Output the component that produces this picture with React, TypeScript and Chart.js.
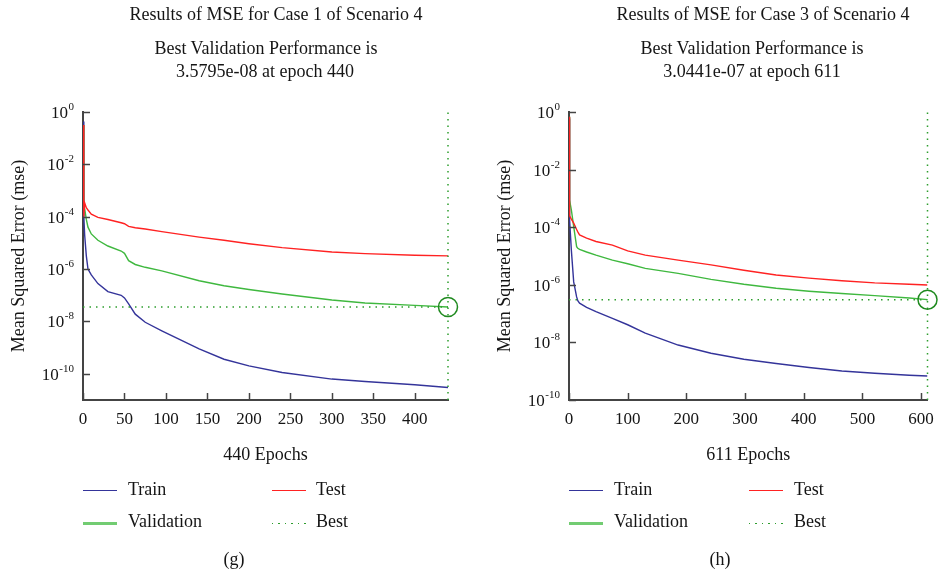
import React, { useEffect, useRef } from 'react';
import { Chart, registerables } from 'chart.js';

Chart.register(...registerables);

const FONT = '"Liberation Serif", "DejaVu Serif", serif';
const TEXT = '#151515';
const AXIS = '#444444';
const TRAIN = '#34349a';
const TEST = '#ff2222';
const VALID = '#3fb83f';
const BEST = '#2e9e2e';
const CIRCLE = '#1f8a1f';

// ---------- Case 1 of Scenario 4 (g) ----------
const case1Epochs = [0, 1, 2, 4, 6, 10, 18, 30, 46, 50, 55, 63, 75, 95, 140, 170, 200, 240, 300, 340, 400, 440];
const case1Train = [4.3e-1, 1.0e-4, 2.0e-5, 3.2e-6, 1.0e-6, 6.0e-7, 2.8e-7, 1.38e-7, 1.0e-7, 7.9e-8, 4.7e-8, 1.9e-8, 9.3e-9, 4.4e-9, 8.9e-10, 3.6e-10, 2.0e-10, 1.12e-10, 6.3e-11, 5.1e-11, 3.8e-11, 3.0e-11];
const case1Validation = [3.2e-1, 2.5e-4, 2.0e-4, 7.9e-5, 4.0e-5, 2.2e-5, 1.26e-5, 7.6e-6, 4.9e-6, 4.0e-6, 2.1e-6, 1.5e-6, 1.17e-6, 8.5e-7, 3.6e-7, 2.3e-7, 1.66e-7, 1.12e-7, 6.6e-8, 5.1e-8, 4.1e-8, 3.5795e-8];
const case1Test = [3.2e-1, 1.0e-4, 3.4e-4, 2.2e-4, 1.8e-4, 1.26e-4, 9.5e-5, 7.8e-5, 5.9e-5, 5.4e-5, 4.3e-5, 3.8e-5, 3.4e-5, 2.7e-5, 1.66e-5, 1.26e-5, 9.3e-6, 6.6e-6, 4.5e-6, 3.9e-6, 3.4e-6, 3.2e-6];
const case1BestEpoch = 440;
const case1BestMse = 3.5795e-8;
const case1XTicks = [0, 50, 100, 150, 200, 250, 300, 350, 400];
const case1YTicks = [1e-10, 1e-8, 1e-6, 1e-4, 1e-2, 1];
const case1YMin = 1e-11;
const case1Title = 'Results of MSE for Case 1 of Scenario 4';
const case1Sub = ['Best Validation Performance is', '3.5795e-08 at epoch 440'];
const case1XLabel = '440 Epochs';

// ---------- Case 3 of Scenario 4 (h) ----------
const case3Epochs = [0, 1, 4, 8, 13, 15, 18, 30, 46, 74, 100, 130, 186, 242, 298, 353, 409, 465, 521, 580, 611];
const case3Train = [6.0e-1, 1.8e-4, 1.6e-5, 1.26e-6, 3.8e-7, 2.8e-7, 2.3e-7, 1.66e-7, 1.17e-7, 6.8e-8, 4.1e-8, 2.1e-8, 8.1e-9, 4.2e-9, 2.6e-9, 1.86e-9, 1.35e-9, 1.02e-9, 8.5e-10, 7.2e-10, 6.8e-10];
const case3Validation = [6.9e-1, 8.7e-4, 4.0e-4, 1.05e-4, 2.1e-5, 1.86e-5, 1.7e-5, 1.38e-5, 1.07e-5, 7.2e-6, 5.4e-6, 3.7e-6, 2.5e-6, 1.55e-6, 1.05e-6, 7.6e-7, 6.0e-7, 5.0e-7, 4.2e-7, 3.5e-7, 3.0441e-7];
const case3Test = [6.9e-1, 2.5e-4, 1.9e-4, 1.38e-4, 8.3e-5, 6.9e-5, 5.4e-5, 4.2e-5, 3.2e-5, 2.4e-5, 1.5e-5, 1.07e-5, 7.2e-6, 4.9e-6, 3.2e-6, 2.2e-6, 1.7e-6, 1.38e-6, 1.17e-6, 1.05e-6, 9.8e-7];
const case3BestEpoch = 611;
const case3BestMse = 3.0441e-7;
const case3XTicks = [0, 100, 200, 300, 400, 500, 600];
const case3YTicks = [1e-10, 1e-8, 1e-6, 1e-4, 1e-2, 1];
const case3YMin = 1e-10;
const case3Title = 'Results of MSE for Case 3 of Scenario 4';
const case3Sub = ['Best Validation Performance is', '3.0441e-07 at epoch 611'];
const case3XLabel = '611 Epochs';

const legendLabels = ['Train', 'Test', 'Validation', 'Best'];

type PanelProps = {
  epochs: number[];
  train: number[];
  validation: number[];
  test: number[];
  bestEpoch: number;
  bestMse: number;
  xTicks: number[];
  yTicks: number[];
  yMin: number;
  xLabel: string;
  width: number;
  yWidth: number;
  rightPad: number;
  yTitlePad: number;
};

const matlabAxes = {
  id: 'matlabAxes',
  afterDraw(chart: any) {
    const { ctx, chartArea, scales } = chart;
    const xs = scales.x;
    const ys = scales.y;
    ctx.save();
    ctx.strokeStyle = AXIS;
    ctx.lineWidth = 1.5;
    xs.ticks.forEach((t: any) => {
      const px = Math.round(xs.getPixelForValue(t.value)) + 0.5;
      ctx.beginPath();
      ctx.moveTo(px, chartArea.bottom);
      ctx.lineTo(px, chartArea.bottom - 7);
      ctx.stroke();
    });
    ys.ticks.forEach((t: any) => {
      const py = Math.round(ys.getPixelForValue(t.value)) + 0.5;
      ctx.beginPath();
      ctx.moveTo(chartArea.left, py);
      ctx.lineTo(chartArea.left + 7, py);
      ctx.stroke();
    });
    ctx.fillStyle = TEXT;
    ctx.textAlign = 'left';
    ctx.textBaseline = 'alphabetic';
    ys.ticks.forEach((t: any) => {
      const py = ys.getPixelForValue(t.value);
      const e = Math.round(Math.log10(t.value));
      const expText = String(e);
      const right = chartArea.left - 9;
      ctx.font = `11px ${FONT}`;
      const ew = ctx.measureText(expText).width;
      ctx.fillText(expText, right - ew, py - 2);
      ctx.font = `17px ${FONT}`;
      const bw = ctx.measureText('10').width;
      ctx.fillText('10', right - ew - bw - 0.5, py + 6);
    });
    ctx.restore();
  },
};

function Panel(p: PanelProps) {
  const ref = useRef<HTMLCanvasElement | null>(null);
  useEffect(() => {
    if (!ref.current) return;
    const pts = (ys: number[]) => p.epochs.map((e, i) => ({ x: e, y: ys[i] }));
    const yMax = p.yTicks[p.yTicks.length - 1];
    const chart = new Chart(ref.current, {
      type: 'line',
      data: {
        datasets: [
          {
            label: 'BestPoint',
            data: [{ x: p.bestEpoch, y: p.bestMse }],
            showLine: false,
            pointRadius: 9.5,
            pointBorderWidth: 1.5,
            pointBorderColor: CIRCLE,
            pointBackgroundColor: 'rgba(0,0,0,0)',
            clip: false,
          } as any,
          {
            label: 'Best',
            data: [{ x: 0, y: p.bestMse }, { x: p.bestEpoch, y: p.bestMse }],
            borderColor: BEST,
            borderWidth: 1.5,
            borderDash: [1.5, 5],
            pointRadius: 0,
            clip: false,
          } as any,
          {
            label: 'BestV',
            data: [{ x: p.bestEpoch, y: p.yMin }, { x: p.bestEpoch, y: yMax }],
            borderColor: BEST,
            borderWidth: 1.5,
            borderDash: [1.5, 5],
            pointRadius: 0,
            clip: false,
          } as any,
          { label: 'Test', data: pts(p.test), borderColor: TEST, borderWidth: 1.4, pointRadius: 0, tension: 0 },
          { label: 'Validation', data: pts(p.validation), borderColor: VALID, borderWidth: 1.4, pointRadius: 0, tension: 0 },
          { label: 'Train', data: pts(p.train), borderColor: TRAIN, borderWidth: 1.4, pointRadius: 0, tension: 0 },
        ],
      },
      options: {
        animation: false,
        responsive: false,
        maintainAspectRatio: false,
        devicePixelRatio: 1,
        layout: { padding: { top: 112, right: p.rightPad, bottom: 106, left: 0 } },
        plugins: { legend: { display: false }, tooltip: { enabled: false }, title: { display: false } },
        scales: {
          x: {
            type: 'linear',
            position: 'bottom',
            min: 0,
            max: p.bestEpoch,
            grid: { display: false, drawTicks: false },
            border: { display: true, color: AXIS, width: 2 },
            ticks: { font: { family: FONT, size: 17 }, color: TEXT, padding: 9, maxRotation: 0, autoSkip: false },
            title: { display: true, text: p.xLabel, font: { family: FONT, size: 18 }, color: TEXT, padding: { top: 0, bottom: 6 } },
            afterBuildTicks: (s: any) => { s.ticks = p.xTicks.map((v) => ({ value: v })); },
            afterFit: (s: any) => { s.height = 72; },
          },
          y: {
            type: 'logarithmic',
            min: p.yMin,
            max: yMax,
            grid: { display: false, drawTicks: false },
            border: { display: true, color: AXIS, width: 2 },
            ticks: { display: false },
            title: { display: true, text: 'Mean Squared Error (mse)', font: { family: FONT, size: 18 }, color: TEXT, padding: { top: p.yTitlePad, bottom: 0 } },
            afterBuildTicks: (s: any) => { s.ticks = p.yTicks.map((v) => ({ value: v })); },
            afterFit: (s: any) => { s.width = p.yWidth; },
          },
        },
      } as any,
      plugins: [matlabAxes],
    });
    return () => chart.destroy();
  }, []);
  return <canvas ref={ref} width={p.width} height={578} style={{ display: 'block', width: p.width, height: 578 }} />;
}

const txt = (s: string, cx: number, top: number, key: string) => (
  <div key={key} style={{ position: 'absolute', left: cx - 200, top, width: 400, textAlign: 'center', font: `18px ${FONT}`, lineHeight: '21px', color: TEXT, whiteSpace: 'nowrap' }}>{s}</div>
);

const legendText = (s: string, x: number, top: number, key: string) => (
  <div key={key} style={{ position: 'absolute', left: x, top, font: `18px ${FONT}`, lineHeight: '21px', color: TEXT, whiteSpace: 'nowrap' }}>{s}</div>
);

function LegendLine({ x, y, color, dotted, w }: { x: number; y: number; color: string; dotted?: boolean; w: number }) {
  if (dotted) {
    return (
      <div style={{ position: 'absolute', left: x, top: y - w / 2, width: 35, height: w,
        background: `repeating-linear-gradient(to right, ${color} 0px, ${color} 1.5px, transparent 1.5px, transparent 6.5px)` }} />
    );
  }
  return (
    <div style={{ position: 'absolute', left: x, top: y - w / 2, width: 34, height: w, background: color }} />
  );
}

function Legend({ c1, c2, t1, t2 }: { c1: number; c2: number; t1: number; t2: number }) {
  return (
    <>
      <LegendLine x={c1} y={490.5} color={TRAIN} w={1.4} />
      {legendText(legendLabels[0], t1, 479, 'a' + t1)}
      <LegendLine x={c2} y={490.5} color={TEST} w={1.4} />
      {legendText(legendLabels[1], t2, 479, 'b' + t1)}
      <LegendLine x={c1} y={523.5} color={'#72cc72'} w={2.2} />
      {legendText(legendLabels[2], t1, 511, 'c' + t1)}
      <LegendLine x={c2} y={523.5} color={BEST} dotted w={1.5} />
      {legendText(legendLabels[3], t2, 511, 'd' + t1)}
    </>
  );
}

export default function App() {
  return (
    <div style={{ position: 'absolute', left: 0, top: 0, width: 943, height: 578, background: '#fff', overflow: 'hidden' }}>
      <div style={{ position: 'absolute', left: 0, top: 0 }}>
        <Panel epochs={case1Epochs} train={case1Train} validation={case1Validation} test={case1Test}
          bestEpoch={case1BestEpoch} bestMse={case1BestMse} xTicks={case1XTicks} yTicks={case1YTicks} yMin={case1YMin}
          xLabel={case1XLabel} width={471} yWidth={83} rightPad={23} yTitlePad={8} />
      </div>
      <div style={{ position: 'absolute', left: 471, top: 0 }}>
        <Panel epochs={case3Epochs} train={case3Train} validation={case3Validation} test={case3Test}
          bestEpoch={case3BestEpoch} bestMse={case3BestMse} xTicks={case3XTicks} yTicks={case3YTicks} yMin={case3YMin}
          xLabel={case3XLabel} width={472} yWidth={98} rightPad={9} yTitlePad={23} />
      </div>
      {txt(case1Title, 276, 3.5, 't1')}
      {txt(case1Sub[0], 266, 37.5, 't2')}
      {txt(case1Sub[1], 265, 61, 't3')}
      {txt(case3Title, 763, 3.5, 't4')}
      {txt(case3Sub[0], 752, 37.5, 't5')}
      {txt(case3Sub[1], 752, 61, 't6')}
      <Legend c1={83} c2={272} t1={128} t2={316} />
      <Legend c1={569} c2={749} t1={614} t2={794} />
      {txt('(g)', 234, 549, 'g')}
      {txt('(h)', 720, 549, 'h')}
    </div>
  );
}
